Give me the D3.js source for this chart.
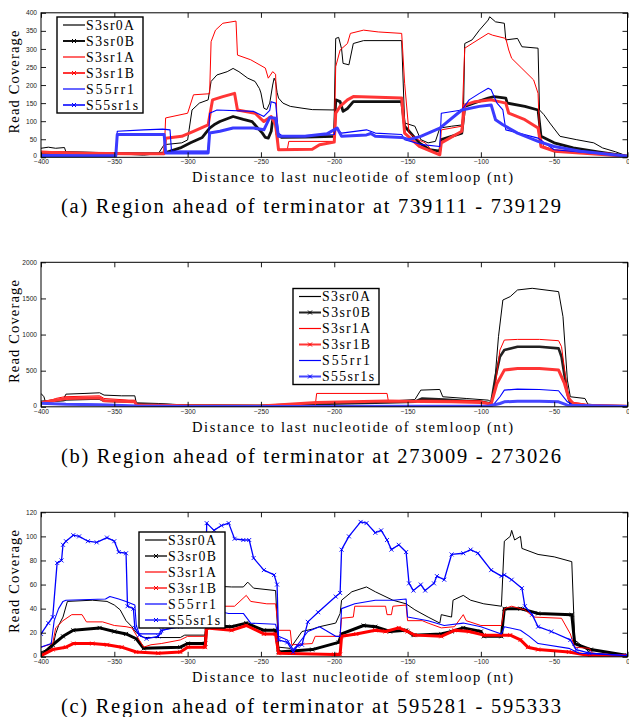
<!DOCTYPE html>
<html>
<head>
<meta charset="utf-8">
<script src="https://cdn.jsdelivr.net/npm/d3@7"></script>
<style>
body{margin:0;background:#fff}
</style>
</head>
<body>
<div class="figure"></div>
<script>

const seriesNames = ["S3sr0A","S3sr0B","S3sr1A","S3sr1B","S55rr1","S55sr1s"];
const xTicks = [-400,-350,-300,-250,-200,-150,-100,-50,0];
const aYTicks = [0,50,100,150,200,250,300,350,400];
const bYTicks = [0,500,1000,1500,2000];
const cYTicks = [0,20,40,60,80,100,120];
const captions = [
  "(a) Region ahead of terminator at 739111 - 739129",
  "(b) Region ahead of terminator at 273009 - 273026",
  "(c) Region ahead of terminator at 595281 - 595333"
];

// panel (a)
const aS3sr0A = [[-400,25],[-395,28],[-390,25],[-384,27],[-383,15],[-370,14],[-350,12],[-340,8],[-330,6],[-320,10],[-316,35],[-304,40],[-300,48],[-299,76],[-297,131],[-292,150],[-286,159],[-284,210],[-280,228],[-273,237],[-269,246],[-265,237],[-259,219],[-254,210],[-251,190],[-250,178],[-248,136],[-246,132],[-244,150],[-242,200],[-241,219],[-240,210],[-239,180],[-238,164],[-235,150],[-230,141],[-222,136],[-215,132],[-200,131],[-199,329],[-197,332],[-195,300],[-194,260],[-190,256],[-187,315],[-180,323],[-154,323],[-152,95],[-145,86],[-141,49],[-136,40],[-131,44],[-128,81],[-120,86],[-112,90],[-111,315],[-106,325],[-101,352],[-95,380],[-94,389],[-90,375],[-84,371],[-83,325],[-75,329],[-72,306],[-61,302],[-60,131],[-57,118],[-53,95],[-46,58],[-35,49],[-23,40],[-17,26],[-8,15],[0,3]];
const aS3sr0B = [[-400,12],[-380,12],[-350,10],[-320,10],[-316,12],[-305,26],[-298,40],[-290,55],[-285,81],[-282,90],[-278,99],[-269,113],[-262,105],[-256,99],[-252,80],[-249,67],[-247,55],[-245,53],[-243,72],[-242,104],[-240,99],[-239,63],[-236,55],[-220,56],[-200,58],[-199,159],[-196,154],[-194,127],[-191,135],[-187,154],[-154,154],[-152,86],[-142,40],[-135,21],[-128,17],[-127,49],[-113,67],[-111,141],[-105,150],[-95,164],[-91,168],[-83,164],[-82,150],[-70,141],[-61,131],[-59,58],[-50,40],[-37,26],[-20,15],[0,3]];
const aS3sr1A = [[-400,17],[-380,14],[-350,12],[-320,10],[-316,10],[-315,109],[-300,122],[-296,173],[-285,176],[-284,320],[-281,352],[-276,371],[-267,377],[-266,283],[-257,270],[-247,247],[-245,219],[-242,237],[-240,230],[-239,90],[-238,21],[-232,22],[-231,44],[-200,44],[-199,251],[-196,297],[-191,315],[-189,343],[-180,352],[-170,347],[-154,343],[-152,205],[-149,67],[-143,49],[-138,40],[-133,17],[-128,7],[-127,76],[-113,86],[-111,302],[-106,315],[-95,343],[-92,338],[-83,329],[-81,297],[-79,274],[-72,246],[-64,214],[-61,177],[-60,67],[-57,30],[-50,21],[-13,12],[0,3]];
const aS3sr1B = [[-400,14],[-370,11],[-340,10],[-316,10],[-315,53],[-304,58],[-296,72],[-286,90],[-283,159],[-276,168],[-268,177],[-266,131],[-254,122],[-248,99],[-243,113],[-240,90],[-238,21],[-215,22],[-210,35],[-200,42],[-199,122],[-196,141],[-191,159],[-187,168],[-154,164],[-152,67],[-142,30],[-128,7],[-127,40],[-113,72],[-111,145],[-104,154],[-93,159],[-83,150],[-81,122],[-70,104],[-61,81],[-59,30],[-50,17],[0,3]];
const aS55rr1 = [[-400,7],[-370,5],[-349,5],[-348,72],[-330,76],[-317,78],[-312,76],[-311,17],[-286,17],[-285,122],[-280,131],[-255,127],[-248,113],[-244,130],[-243,154],[-240,150],[-238,67],[-235,58],[-220,60],[-200,63],[-199,81],[-195,67],[-178,76],[-172,67],[-154,63],[-152,49],[-140,35],[-128,30],[-127,122],[-113,131],[-108,159],[-101,177],[-95,191],[-93,187],[-89,150],[-85,131],[-83,76],[-61,53],[-50,21],[0,3]];
const aS55sr1s = [[-400,5],[-370,4],[-349,4],[-348,63],[-316,63],[-315,12],[-286,12],[-285,67],[-278,72],[-269,81],[-255,81],[-248,76],[-244,110],[-240,108],[-238,58],[-220,58],[-205,65],[-198,81],[-195,58],[-178,62],[-175,66],[-172,58],[-154,55],[-149,49],[-141,58],[-128,81],[-113,131],[-101,141],[-93,145],[-90,104],[-85,90],[-75,67],[-61,44],[-50,30],[-32,17],[0,3]];

// panel (b)
const bS3sr0A = [[-400,185],[-398,139],[-397,69],[-385,92],[-383,175],[-370,185],[-360,194],[-357,162],[-345,152],[-336,152],[-335,55],[-320,46],[-300,23],[-280,15],[-250,15],[-230,30],[-200,50],[-170,70],[-145,100],[-141,231],[-128,240],[-126,139],[-110,115],[-95,92],[-93,69],[-91,231],[-88,970],[-85,1478],[-80,1525],[-75,1617],[-65,1640],[-47,1594],[-44,1247],[-41,370],[-39,139],[-29,115],[-27,37],[-15,15],[0,10]];
const bS3sr0B = [[-400,69],[-385,90],[-383,102],[-360,115],[-357,83],[-336,69],[-335,37],[-310,20],[-250,15],[-212,40],[-164,60],[-145,70],[-140,115],[-125,100],[-100,70],[-93,46],[-90,416],[-87,693],[-84,785],[-75,832],[-60,832],[-47,809],[-45,693],[-41,185],[-39,46],[-27,18],[0,8]];
const bS3sr1A = [[-400,69],[-392,100],[-390,115],[-384,139],[-360,152],[-357,115],[-340,92],[-336,92],[-335,37],[-320,25],[-300,15],[-260,12],[-213,15],[-212,185],[-164,185],[-163,69],[-150,80],[-140,92],[-120,88],[-100,83],[-93,46],[-90,323],[-87,785],[-84,924],[-75,933],[-60,933],[-47,915],[-45,832],[-41,231],[-39,69],[-32,46],[-27,23],[0,8]];
const bS3sr1B = [[-400,55],[-390,92],[-383,115],[-360,125],[-357,83],[-336,69],[-335,25],[-300,15],[-250,12],[-212,60],[-164,80],[-140,75],[-120,70],[-100,60],[-93,37],[-89,323],[-84,508],[-75,531],[-60,531],[-47,508],[-43,323],[-40,115],[-37,46],[-27,23],[0,8]];
const bS55rr1 = [[-400,46],[-383,37],[-360,30],[-335,15],[-300,8],[-200,8],[-150,10],[-95,10],[-92,15],[-87,139],[-84,231],[-75,245],[-60,240],[-47,222],[-41,69],[-37,23],[0,5]];
const bS55sr1s = [[-400,50],[-383,37],[-360,30],[-335,10],[-300,5],[-200,5],[-150,8],[-95,8],[-87,46],[-84,69],[-75,78],[-60,78],[-47,69],[-41,23],[0,5]];

// panel (c)
const cS3sr0A = [[-400,4],[-392,8],[-390,19],[-388,26],[-385,33],[-382,46],[-365,47],[-355,46],[-350,43],[-346,39],[-342,30],[-338,25],[-335,20],[-330,16],[-305,16],[-302,18],[-288,18],[-287,59],[-270,58],[-262,58],[-259,62],[-255,57],[-240,55],[-238,8],[-230,7],[-226,14],[-222,21],[-215,23],[-210,25],[-199,28],[-196,36],[-195,47],[-188,54],[-178,58],[-172,54],[-160,47],[-151,44],[-145,39],[-136,33],[-128,28],[-127,35],[-120,33],[-119,47],[-112,51],[-107,47],[-98,44],[-86,42],[-84,96],[-80,100],[-79,105],[-77,97],[-73,100],[-72,90],[-61,85],[-50,83],[-38,79],[-36,14],[-30,8],[-25,3],[0,1]];
const cS3sr0B = [[-400,1],[-392,10],[-385,17],[-378,22],[-360,24],[-350,21],[-342,19],[-335,15],[-330,7],[-305,8],[-300,11],[-288,11],[-287,26],[-270,25],[-260,28],[-248,22],[-240,22],[-238,4],[-215,6],[-197,12],[-195,19],[-180,26],[-172,25],[-162,21],[-151,22],[-146,18],[-127,19],[-120,21],[-112,24],[-100,21],[-98,17],[-86,17],[-84,40],[-73,40],[-61,36],[-38,35],[-36,11],[-25,6],[0,1]];
const cS3sr1A = [[-400,8],[-392,11],[-390,24],[-385,30],[-379,35],[-372,35],[-369,29],[-358,29],[-350,26],[-342,25],[-338,24],[-335,18],[-333,14],[-330,8],[-325,10],[-318,11],[-305,14],[-300,17],[-288,17],[-287,42],[-268,42],[-260,51],[-257,46],[-246,44],[-240,44],[-238,22],[-230,22],[-229,10],[-215,11],[-213,17],[-196,17],[-195,32],[-187,33],[-186,42],[-165,42],[-164,35],[-161,35],[-160,42],[-151,43],[-150,30],[-140,30],[-136,28],[-127,24],[-118,25],[-112,35],[-110,30],[-100,26],[-86,26],[-84,40],[-79,42],[-70,39],[-64,33],[-45,32],[-39,19],[-36,8],[-26,7],[-24,3],[0,1]];
const cS3sr1B = [[-400,1],[-392,6],[-383,8],[-378,11],[-365,11],[-355,10],[-345,8],[-335,4],[-320,3],[-305,4],[-300,8],[-288,8],[-287,24],[-270,22],[-260,26],[-248,19],[-240,19],[-238,3],[-200,2],[-196,2],[-195,17],[-185,19],[-172,22],[-165,21],[-156,24],[-150,21],[-145,18],[-127,17],[-118,22],[-108,21],[-98,18],[-80,18],[-73,14],[-68,8],[-61,6],[-40,4],[-26,1],[0,1]];
const cS55rr1 = [[-400,8],[-393,11],[-391,30],[-388,40],[-385,46],[-383,47],[-356,48],[-353,50],[-347,48],[-342,46],[-336,43],[-335,26],[-333,19],[-318,19],[-317,22],[-305,26],[-300,30],[-288,30],[-287,42],[-280,38],[-272,36],[-262,36],[-257,28],[-240,27],[-238,17],[-232,14],[-228,6],[-225,10],[-218,21],[-210,25],[-199,17],[-196,17],[-195,40],[-186,44],[-172,47],[-160,47],[-151,48],[-150,33],[-136,30],[-125,26],[-112,28],[-100,25],[-86,19],[-84,25],[-73,22],[-67,17],[-61,11],[-40,7],[-33,3],[0,1]];
const cS55sr1s = [[-400,19],[-395,28],[-392,33],[-389,78],[-386,80],[-385,93],[-383,96],[-378,101],[-374,100],[-368,96],[-362,95],[-355,99],[-350,96],[-347,87],[-342,86],[-341,42],[-337,40],[-336,24],[-333,18],[-328,15],[-320,17],[-318,22],[-305,25],[-295,28],[-288,35],[-287,111],[-282,105],[-277,109],[-272,111],[-268,98],[-262,97],[-258,97],[-255,82],[-248,72],[-241,68],[-239,60],[-238,14],[-232,12],[-228,4],[-225,9],[-222,10],[-218,29],[-211,37],[-199,50],[-196,53],[-195,89],[-190,100],[-182,112],[-178,111],[-172,103],[-168,105],[-164,97],[-161,89],[-156,93],[-151,87],[-149,61],[-146,55],[-141,60],[-138,55],[-132,61],[-130,67],[-125,64],[-120,85],[-112,86],[-107,89],[-102,86],[-93,72],[-86,67],[-84,68],[-79,64],[-72,57],[-70,42],[-65,35],[-61,25],[-52,21],[-39,14],[-35,6],[-26,3],[0,1]];

const colors = ["#000","#000","#f00","#f00","#00f","#00f"];
const marked = [false,true,false,true,false,true];

const panels = [
  {top:12.8, yMax:400, yTicks:aYTicks, data:[aS3sr0A,aS3sr0B,aS3sr1A,aS3sr1B,aS55rr1,aS55sr1s],
   widths:[1,2.8,1,3,1.1,3], tone:["#000","#111","#f00","#ff3535","#0000ff","#3a3aff"], marks:false, legend:[57,17]},
  {top:262.3, yMax:2000, yTicks:bYTicks, data:[bS3sr0A,bS3sr0B,bS3sr1A,bS3sr1B,bS55rr1,bS55sr1s],
   widths:[1,2.6,1,3,1.1,3], tone:["#000","#222","#f00","#ff3535","#0000ff","#4545ff"], marks:false, legend:[293,288.5]},
  {top:512.3, yMax:120, yTicks:cYTicks, data:[cS3sr0A,cS3sr0B,cS3sr1A,cS3sr1B,cS55rr1,cS55sr1s],
   widths:[1,3,1,3,1.1,1.3], tone:["#000","#000","#f00","#f00","#0000ff","#0000ff"], marks:true, legend:[139,532]}
];

const W = 629, H = 717;
const left = 41, right = 627.5, plotH = 144.5;

const svg = d3.select('.figure')
    .append('svg')
    .attr('width', W)
    .attr('height', H)

const x = d3.scaleLinear().domain([-400,0]).range([left,right]);

const xMark = "M-2,-2L2,2M-2,2L2,-2";

panels.forEach((p,pi)=>{
    const y = d3.scaleLinear().domain([0,p.yMax]).range([p.top+plotH, p.top]);
    const g = svg.append('g');

    g.append('clipPath').attr('id','clip'+pi)
        .append('rect')
        .attr('x',left).attr('y',p.top)
        .attr('width',right-left).attr('height',plotH)

    const line = d3.line().x(d=>x(d[0])).y(d=>y(d[1]));

    const lines = g.append('g').attr('clip-path','url(#clip'+pi+')');
    p.data.forEach((d,i)=>{
        lines.append('path')
            .datum(d)
            .attr('d',line)
            .attr('fill','none')
            .attr('stroke',p.tone[i])
            .attr('stroke-width',p.widths[i])
            .attr('stroke-linejoin','round')
        if (p.marks && marked[i]) {
            lines.selectAll('.m'+i)
                .data(d)
                .enter()
                .append('path')
                .attr('class','m'+i)
                .attr('d',xMark)
                .attr('transform',v=>`translate(${x(v[0])},${y(v[1])})`)
                .attr('stroke',colors[i])
                .attr('stroke-width',0.9)
        }
    })

    // axes, ticks inside like matlab
    const bottom = g.append('g')
        .attr('transform',`translate(0,${p.top+plotH})`)
        .call(d3.axisBottom(x).tickValues(xTicks).tickSize(-5).tickPadding(2.5))
    const top = g.append('g')
        .attr('transform',`translate(0,${p.top})`)
        .call(d3.axisTop(x).tickValues(xTicks).tickSize(-5).tickFormat(''))
    const leftAx = g.append('g')
        .attr('transform',`translate(${left},0)`)
        .call(d3.axisLeft(y).tickValues(p.yTicks).tickSize(-5).tickPadding(4).tickFormat(d3.format('d')))
    const rightAx = g.append('g')
        .attr('transform',`translate(${right},0)`)
        .call(d3.axisRight(y).tickValues(p.yTicks).tickSize(-5).tickFormat(''))

    ;[bottom,top,leftAx,rightAx].forEach(a=>{
        a.select('.domain').remove();
        a.selectAll('.tick line').attr('stroke','#000').attr('stroke-width',0.9);
        a.selectAll('text')
            .attr('font-family','"Liberation Sans", Arial, sans-serif')
            .attr('font-size',6.6)
            .attr('fill','#222');
    })
    // keep the lowest y label clear of the x labels
    leftAx.selectAll('.tick text').filter(d=>d===0).attr('dy','0.1em');

    g.append('rect')
        .attr('x',left).attr('y',p.top)
        .attr('width',right-left).attr('height',plotH)
        .attr('fill','none')
        .attr('stroke','#000')
        .attr('stroke-width',1)

    // labels
    g.append('text')
        .text('Distance to last nucleotide of stemloop (nt)')
        .attr('x',352.5)
        .attr('y',p.top+plotH+25)
        .attr('text-anchor','middle')
        .attr('textLength',321)
        .attr('lengthAdjust','spacing')
        .attr('font-family','"Liberation Serif", serif')
        .attr('font-size',14.5)

    g.append('text')
        .text('Read Coverage')
        .attr('transform',`translate(19,${p.top+plotH/2-3}) rotate(-90)`)
        .attr('text-anchor','middle')
        .attr('textLength',103)
        .attr('lengthAdjust','spacing')
        .attr('font-family','"Liberation Serif", serif')
        .attr('font-size',14.5)

    g.append('text')
        .text(captions[pi])
        .attr('x',311)
        .attr('y',p.top+plotH+56)
        .attr('text-anchor','middle')
        .attr('textLength',500)
        .attr('lengthAdjust','spacing')
        .attr('font-family','"Liberation Serif", serif')
        .attr('font-size',20.5)

    // legend
    const lx = p.legend[0], ly = p.legend[1];
    const lg = g.append('g').attr('transform',`translate(${lx},${ly})`);
    lg.append('rect')
        .attr('width',86).attr('height',96)
        .attr('fill','#fff')
        .attr('stroke','#000')
        .attr('stroke-width',1.4)

    seriesNames.forEach((name,i)=>{
        const ry = 8 + i*16;
        lg.append('line')
            .attr('x1',6).attr('x2',28)
            .attr('y1',ry).attr('y2',ry)
            .attr('stroke',p.tone[i])
            .attr('stroke-width',marked[i] ? (p.marks ? 1.3 : 2) : 1.2)
        if (marked[i]) {
            lg.append('path')
                .attr('d',xMark)
                .attr('transform',`translate(17,${ry})`)
                .attr('stroke',colors[i])
                .attr('stroke-width',1)
        }
        lg.append('text')
            .text(name)
            .attr('x',29)
            .attr('y',ry)
            .attr('dy','0.35em')
            .attr('textLength',i===5 ? 52 : 48)
            .attr('lengthAdjust','spacing')
            .attr('font-family','"Liberation Serif", serif')
            .attr('font-size',13.8)
    })
})

</script>
</body>
</html>
